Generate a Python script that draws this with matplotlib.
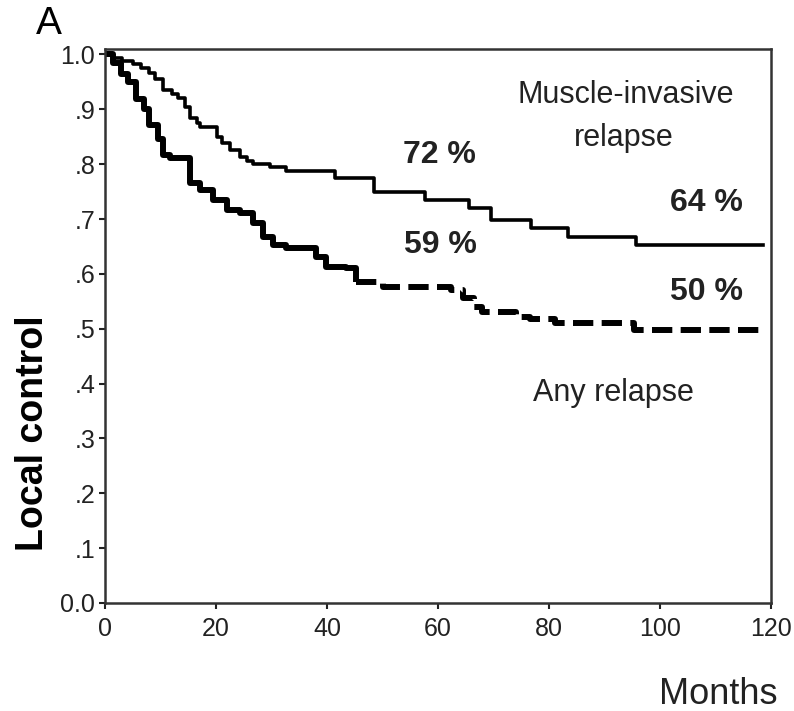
import matplotlib
matplotlib.use("Agg")
import matplotlib.pyplot as plt

plt.rcParams['font.family'] = ['Liberation Sans', 'DejaVu Sans']

# Kaplan-Meier style step data (months, local control)
mi_months = [0, 1.5, 3, 5, 6.5, 8, 9, 10.5, 12, 13.2, 14.5, 15.3, 16.5, 17.1,
             20.1, 21, 22.5, 24.3, 25.5, 26.7, 29.7, 32.7, 41.5, 48.5, 57.7,
             65.5, 69.5, 76.8, 83.4, 95.6, 118.5]
mi_control = [1.0, 0.993, 0.988, 0.982, 0.975, 0.966, 0.955, 0.935, 0.928, 0.92,
              0.905, 0.885, 0.875, 0.868, 0.85, 0.838, 0.825, 0.814, 0.806, 0.80,
              0.795, 0.788, 0.774, 0.750, 0.735, 0.720, 0.698, 0.683, 0.668,
              0.653, 0.653]

any_months = [0, 1.5, 2.9, 4.1, 5.6, 7.1, 8.0, 9.5, 10.4, 11.7, 15.3, 17.1,
              19.5, 21.9, 24.3, 26.7, 28.5, 30.3, 32.7, 38.1, 39.9, 43.5, 45.3]
any_control = [1.0, 0.985, 0.964, 0.949, 0.919, 0.901, 0.871, 0.846, 0.816,
               0.811, 0.765, 0.753, 0.735, 0.717, 0.711, 0.692, 0.668, 0.653,
               0.647, 0.631, 0.613, 0.610, 0.586]

any_late_months = [45.3, 50, 62.3, 64.5, 66.5, 68.0, 74.0, 76.5, 81.0, 95.3, 118.5]
any_late_control = [0.586, 0.577, 0.570, 0.556, 0.540, 0.531, 0.522, 0.517,
                     0.510, 0.497, 0.497]

x_ticks = [0, 20, 40, 60, 80, 100, 120]
y_ticks = [0.0, 0.1, 0.2, 0.3, 0.4, 0.5, 0.6, 0.7, 0.8, 0.9, 1.0]
y_tick_labels = ['0.0', '.1', '.2', '.3', '.4', '.5', '.6', '.7', '.8', '.9', '1.0']

fig = plt.figure(figsize=(7.94, 7.11), dpi=100)
ax = fig.add_axes([105 / 794, 1 - 603 / 711, 666 / 794, 554 / 711])

ax.plot(mi_months, mi_control, drawstyle='steps-post', color='black', lw=2.6)
ax.plot(any_months, any_control, drawstyle='steps-post', color='black', lw=4.3,
        solid_capstyle='butt')
ax.plot(any_late_months, any_late_control, drawstyle='steps-post', color='black',
        lw=4.3, linestyle=(0, (3.4, 1.4)), dash_capstyle='butt')

ax.set_xlim(0, 120)
ax.set_ylim(0, 1.01)
ax.set_xticks(x_ticks)
ax.set_xticklabels([str(t) for t in x_ticks])
ax.set_yticks(y_ticks)
ax.set_yticklabels(y_tick_labels)
ax.tick_params(labelsize=18, length=4, width=1.5, pad=3, colors='#222222')
ax.tick_params(axis='x', pad=6)
for sp in ax.spines.values():
    sp.set_linewidth(1.8)
    sp.set_color('#333333')

# annotations
ax.text(93.9, 0.926, 'Muscle-invasive', fontsize=22, ha='center', va='center', color='#222222')
ax.text(93.5, 0.848, 'relapse', fontsize=22, ha='center', va='center', color='#222222')
ax.text(91.7, 0.383, 'Any relapse', fontsize=22, ha='center', va='center', color='#222222')
ax.text(60.2, 0.817, '72 %', fontsize=23, fontweight='bold', ha='center', va='center', color='#222222')
ax.text(60.5, 0.653, '59 %', fontsize=23, fontweight='bold', ha='center', va='center', color='#222222')
ax.text(108.3, 0.729, '64 %', fontsize=23, fontweight='bold', ha='center', va='center', color='#222222')
ax.text(108.3, 0.567, '50 %', fontsize=23, fontweight='bold', ha='center', va='center', color='#222222')

fig.text(718 / 794, 1 - 695 / 711, 'Months', fontsize=26, ha='center', va='center', color='#222222')
fig.text(33 / 794, 1 - 433 / 711, 'Local control', fontsize=27, fontweight='bold',
         rotation=90, ha='center', va='center')
fig.text(49 / 794, 1 - 24 / 711, 'A', fontsize=28, ha='center', va='center')

fig.savefig('out.png', dpi=100)
